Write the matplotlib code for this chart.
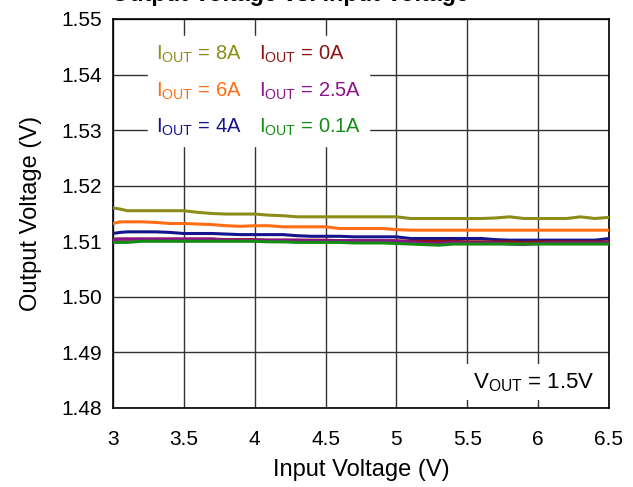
import matplotlib
matplotlib.use("Agg")
import matplotlib.pyplot as plt
from matplotlib.lines import Line2D

plt.rcParams['font.family'] = ['Liberation Sans', 'DejaVu Sans']
plt.rcParams['mathtext.fontset'] = 'custom'
plt.rcParams['mathtext.rm'] = 'Liberation Sans'
plt.rcParams['mathtext.it'] = 'Liberation Sans:italic'

# input voltage (V)
vin = [3.0, 3.05, 3.1, 3.2, 3.3, 3.4, 3.5, 3.6, 3.7, 3.8, 3.9, 4.0, 4.1, 4.2,
       4.3, 4.4, 4.5, 4.6, 4.7, 4.8, 4.9, 5.0, 5.1, 5.2, 5.3, 5.4, 5.5, 5.6,
       5.7, 5.8, 5.9, 6.0, 6.1, 6.2, 6.3, 6.4, 6.5]

# output voltage (V) per load current
vout_8a = [1.5160, 1.5158, 1.5155, 1.5155, 1.5155, 1.5155, 1.5155, 1.5152, 1.5150,
           1.5149, 1.5149, 1.5149, 1.5147, 1.5146, 1.5144, 1.5144, 1.5144, 1.5144,
           1.5144, 1.5144, 1.5144, 1.5144, 1.5141, 1.5141, 1.5141, 1.5141, 1.5141,
           1.5141, 1.5142, 1.5144, 1.5141, 1.5141, 1.5141, 1.5141, 1.5144, 1.5141,
           1.5143]
vout_6a = [1.5132, 1.5135, 1.5135, 1.5135, 1.5134, 1.5132, 1.5132, 1.5131, 1.5130,
           1.5128, 1.5127, 1.5128, 1.5128, 1.5126, 1.5126, 1.5126, 1.5126, 1.5123,
           1.5123, 1.5123, 1.5123, 1.5121, 1.5120, 1.5120, 1.5120, 1.5120, 1.5120,
           1.5120, 1.5120, 1.5120, 1.5120, 1.5120, 1.5120, 1.5120, 1.5120, 1.5120,
           1.5120]
vout_4a = [1.5114, 1.5116, 1.5117, 1.5117, 1.5117, 1.5116, 1.5114, 1.5114, 1.5114,
           1.5113, 1.5112, 1.5112, 1.5112, 1.5112, 1.5110, 1.5109, 1.5109, 1.5109,
           1.5108, 1.5108, 1.5108, 1.5108, 1.5105, 1.5105, 1.5105, 1.5105, 1.5105,
           1.5105, 1.5103, 1.5102, 1.5102, 1.5102, 1.5102, 1.5102, 1.5102, 1.5102,
           1.5105]
vout_0a = [1.5104, 1.5104, 1.5104, 1.5104, 1.5104, 1.5104, 1.5104, 1.5104, 1.5104,
           1.5103, 1.5103, 1.5103, 1.5102, 1.5102, 1.5102, 1.5102, 1.5102, 1.5101,
           1.5101, 1.5101, 1.5101, 1.5101, 1.5100, 1.5100, 1.5100, 1.5100, 1.5099,
           1.5099, 1.5099, 1.5099, 1.5098, 1.5099, 1.5099, 1.5099, 1.5099, 1.5099,
           1.5099]
vout_2a5 = [1.5103, 1.5104, 1.5104, 1.5104, 1.5104, 1.5104, 1.5104, 1.5104, 1.5104,
            1.5102, 1.5102, 1.5102, 1.5102, 1.5102, 1.5102, 1.5101, 1.5101, 1.5101,
            1.5101, 1.5101, 1.5101, 1.5100, 1.5099, 1.5096, 1.5096, 1.5098, 1.5097,
            1.5097, 1.5097, 1.5095, 1.5094, 1.5096, 1.5097, 1.5097, 1.5097, 1.5097,
            1.5097]
vout_0a1 = [1.5098, 1.5098, 1.5098, 1.5100, 1.5100, 1.5100, 1.5100, 1.5100, 1.5100,
            1.5100, 1.5100, 1.5100, 1.5099, 1.5099, 1.5098, 1.5098, 1.5098, 1.5098,
            1.5097, 1.5097, 1.5097, 1.5096, 1.5095, 1.5094, 1.5093, 1.5095, 1.5095,
            1.5095, 1.5095, 1.5095, 1.5095, 1.5095, 1.5095, 1.5095, 1.5095, 1.5095,
            1.5095]

labels = ['8A', '6A', '4A', '0A', '2.5A', '0.1A']
series = [vout_8a, vout_6a, vout_4a, vout_0a, vout_2a5, vout_0a1]
colors = ['#8c8c1a', '#ff6e14', '#14148c', '#8c1414', '#8c148c', '#148c14']

xticks = [3, 3.5, 4, 4.5, 5, 5.5, 6, 6.5]
xtick_labels = ['3', '3.5', '4', '4.5', '5', '5.5', '6', '6.5']
yticks = [1.48, 1.49, 1.50, 1.51, 1.52, 1.53, 1.54, 1.55]


def make_plot():
    fig = plt.figure(figsize=(6.33, 4.87), dpi=100)
    ax = fig.add_axes([113 / 633, 1 - 408 / 487, 496 / 633, 389 / 487])

    for y, c in zip(series, colors):
        ax.plot(vin, y, color=c, lw=2.2, solid_joinstyle='round', zorder=3)

    ax.set_xlim(3, 6.5)
    ax.set_ylim(1.48, 1.55)
    ax.set_xticks(xticks)
    ax.set_xticklabels(xtick_labels)
    ax.set_yticks(yticks)
    ax.set_yticklabels([f"{t:.2f}" for t in yticks])
    ax.tick_params(direction='in', length=0, labelsize=15)
    ax.tick_params(axis='x', pad=16)
    ax.tick_params(axis='y', pad=8)
    ax.grid(True, color='#333333', lw=1)
    for s in ax.spines.values():
        s.set_linewidth(1.2)

    ax.set_xlabel('Input Voltage (V)', fontsize=17, labelpad=7)
    ax.set_ylabel('Output Voltage (V)', fontsize=17, labelpad=14)

    # title sits mostly above the canvas, as in the source image
    fig.text(290 / 633, 1 - 1.5 / 487, 'Output Voltage vs. Input Voltage',
             ha='center', va='baseline', fontsize=16.8, fontweight='bold')

    handles = [Line2D([], [], color=c) for c in colors]
    leg_labels = [r'I$_{\mathrm{OUT}}$ = ' + l for l in labels]
    leg = ax.legend(handles, leg_labels, ncol=2, loc='upper left',
                    bbox_to_anchor=(35 / 496, 1 - 17 / 389), borderaxespad=0,
                    handlelength=0, handletextpad=0, labelcolor='linecolor',
                    fontsize=14.5, frameon=True, fancybox=False, framealpha=1,
                    edgecolor='white', borderpad=0.4, labelspacing=0.75,
                    columnspacing=0.85)
    leg.set_zorder(5)

    ax.text(5.97, 1.4846, r'V$_{\mathrm{OUT}}$ = 1.5V', ha='center', va='center',
            fontsize=16, zorder=5,
            bbox=dict(facecolor='white', edgecolor='none', boxstyle='square,pad=0.3'))

    fig.savefig('out.png', dpi=100)


if __name__ == "__main__":
    make_plot()
